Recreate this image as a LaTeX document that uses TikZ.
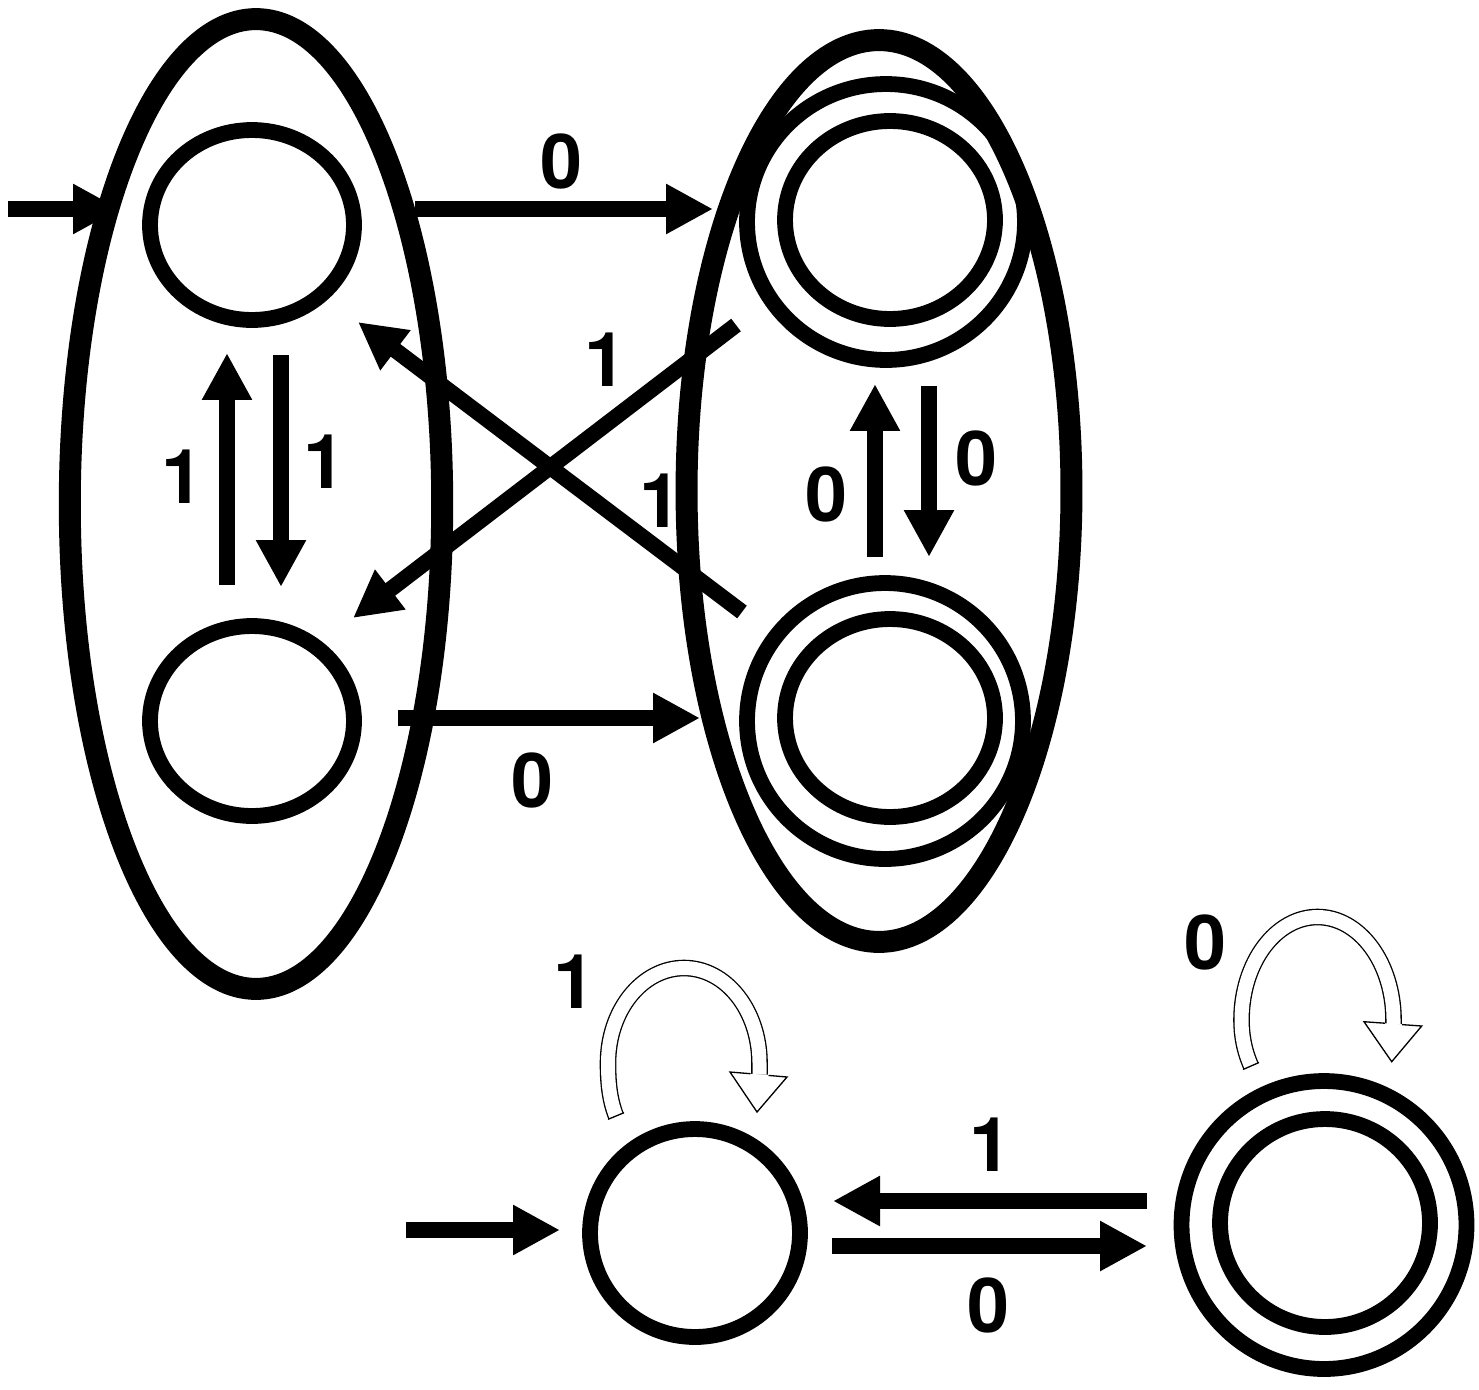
\documentclass[tikz,border=0pt]{standalone}
\usepackage{fontspec}
\setmainfont{TeX Gyre Heros}
\usetikzlibrary{arrows.meta,shapes.geometric}
\begin{document}
\begin{tikzpicture}[x=0.02cm,y=-0.02cm,
  bigell/.style={draw, ellipse, line width=12.5pt, inner sep=0pt, outer sep=0pt},
  st/.style={draw, ellipse, line width=9pt, inner sep=0pt, outer sep=0pt},
  arr/.style={line width=9pt, -{Triangle[length=0.94cm,width=0.94cm]}},
  lab/.style={font=\fontsize{43}{43}\selectfont\bfseries, inner sep=0pt},
  loopband/.style={double=white, double distance=0.28cm, line width=0.75pt},
  loophead/.style={fill=white, draw=black, line width=0.75pt, line join=miter}
]
\useasboundingbox (0,0) rectangle (1479,1389);

% ---------- upper diagram: states ----------
\node[st, minimum width=4.08cm, minimum height=3.8cm] (p) at (252,225) {};
\node[st, minimum width=4.08cm, minimum height=3.8cm] (q) at (252,721) {};
\node[st, minimum width=5.56cm, minimum height=5.52cm] (ro) at (886,222) {};
\node[st, minimum width=4.2cm, minimum height=3.96cm] (r) at (890,220) {};
\node[st, minimum width=5.52cm, minimum height=5.52cm] (so) at (885,721) {};
\node[st, minimum width=4.2cm, minimum height=3.96cm] (s) at (890,718) {};

% ---------- upper diagram: groups ----------
\node[bigell, minimum width=7.45cm, minimum height=19.4cm] (A) at (256,504) {};
\node[bigell, minimum width=7.7cm, minimum height=18.04cm] (B) at (879,491) {};

% ---------- upper diagram: connectors ----------
\coordinate (i0) at (8,209);     \coordinate (i1) at (120,209);
\coordinate (t0a) at (415,209);  \coordinate (t0b) at (713,209);
\coordinate (b0a) at (398,718);  \coordinate (b0b) at (700,718);
\coordinate (lua) at (227,585);  \coordinate (lub) at (227,353);
\coordinate (lda) at (281,355);  \coordinate (ldb) at (281,587);
\coordinate (rua) at (875,557);  \coordinate (rub) at (875,384);
\coordinate (rda) at (929,386);  \coordinate (rdb) at (929,557);
\coordinate (dAa) at (742,612);  \coordinate (dAb) at (358,322);
\coordinate (dBa) at (736,325);  \coordinate (dBb) at (353,618);

\draw[arr] (i0) -- (i1);
\draw[arr] (t0a) -- (t0b);
\draw[arr] (b0a) -- (b0b);
\draw[arr] (lua) -- (lub);
\draw[arr] (lda) -- (ldb);
\draw[arr] (rua) -- (rub);
\draw[arr] (rda) -- (rdb);
\draw[arr] (dAa) -- (dAb);
\draw[arr] (dBa) -- (dBb);

\node[lab] (L1) at (561,161) {0};
\node[lab] (L2) at (532,780) {0};
\node[lab] (L3) at (183,477) {1};
\node[lab] (L4) at (324,462) {1};
\node[lab] (L5) at (605,360) {1};
\node[lab] (L6) at (660,501) {1};
\node[lab] (L7) at (826,494) {0};
\node[lab] (L8) at (976,458) {0};

% ---------- lower diagram ----------
\node[st, minimum width=4.2cm, minimum height=4.16cm] (m) at (695,1233) {};
\node[st, minimum width=5.7cm, minimum height=5.76cm] (no) at (1324,1225) {};
\node[st, minimum width=4.2cm, minimum height=4.16cm] (n) at (1325,1223) {};

\coordinate (j0) at (406,1230);  \coordinate (j1) at (560,1230);
\coordinate (u0) at (1147,1201); \coordinate (u1) at (833,1201);
\coordinate (w0) at (832,1246);  \coordinate (w1) at (1147,1246);
\draw[arr] (j0) -- (j1);
\draw[arr] (u0) -- (u1);
\draw[arr] (w0) -- (w1);

\node[lab] (L9) at (990,1145) {1};
\node[lab] (L10) at (988,1305) {0};
\node[lab] (L11) at (574,982) {1};
\node[lab] (L12) at (1205,942) {0};

% self loop on m
\draw[loopband] (616,1116) .. controls (609,1098) and (608,1080) .. (608,1063)
  .. controls (608,1010.5) and (642,968) .. (684,968)
  .. controls (726,968) and (759.5,1010.5) .. (759.5,1063) -- (759.5,1074.5);
\draw[line width=0.75pt] (608,1119.3) -- (624,1112.7);
\filldraw[loophead] (750.5,1073.7) -- (730,1072) -- (757,1112) -- (787,1077) -- (768.5,1075.4);

% self loop on n
\draw[loopband] (1251,1066) .. controls (1244,1050) and (1241.5,1035) .. (1241.5,1020)
  .. controls (1241.5,963) and (1275.5,917) .. (1317.5,917)
  .. controls (1359.5,917) and (1393.5,963) .. (1393.5,1020) -- (1393.5,1024);
\draw[line width=0.75pt] (1243,1069.5) -- (1259,1062.5);
\filldraw[loophead] (1385,1023.2) -- (1364,1021.7) -- (1391.7,1061.7) -- (1421.7,1026) -- (1402,1024.6);
\end{tikzpicture}
\end{document}
